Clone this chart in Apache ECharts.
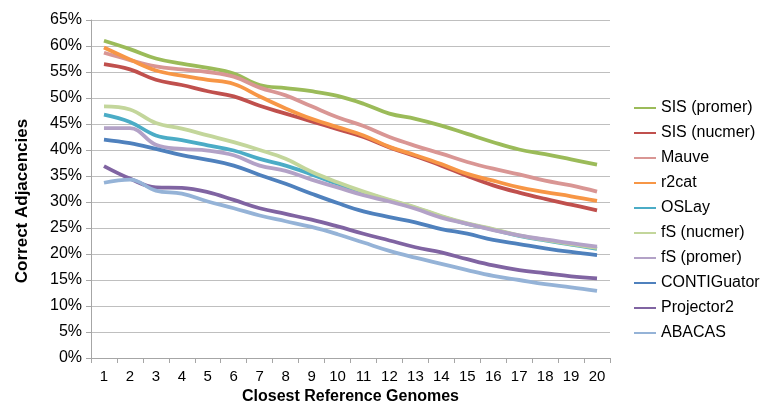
<!DOCTYPE html>
<html>
<head>
<meta charset="utf-8">
<script src="https://cdn.jsdelivr.net/npm/echarts@6/dist/echarts.min.js"></script>
<style>
html,body{margin:0;padding:0;background:#fff;}
#chart{width:766px;height:410px;}
</style>
</head>
<body>
<div id="chart"></div>
<script>
var categories = ['1','2','3','4','5','6','7','8','9','10','11','12','13','14','15','16','17','18','19','20'];
var yTicks = [0,5,10,15,20,25,30,35,40,45,50,55,60,65];

var sisPromer   = [61.0, 59.4, 57.6, 56.6, 55.8, 54.7, 52.5, 51.9, 51.3, 50.4, 48.9, 47.0, 46.0, 44.7, 43.1, 41.5, 40.1, 39.2, 38.2, 37.2];
var sisNucmer   = [56.5, 55.5, 53.5, 52.5, 51.3, 50.3, 48.5, 47.0, 45.5, 44.0, 42.5, 40.5, 38.8, 37.0, 35.0, 33.2, 31.8, 30.6, 29.5, 28.4];
var mauve       = [58.7, 57.3, 56.1, 55.5, 55.0, 54.1, 52.0, 50.5, 48.4, 46.3, 44.6, 42.5, 40.8, 39.3, 37.7, 36.4, 35.3, 34.1, 33.2, 32.0];
var r2cat       = [59.7, 57.4, 55.3, 54.3, 53.5, 52.7, 50.3, 48.0, 46.0, 44.4, 42.8, 40.6, 39.0, 37.3, 35.4, 34.1, 32.8, 31.9, 31.1, 30.2];
var oslay       = [46.8, 45.4, 42.8, 41.9, 40.9, 39.9, 38.3, 37.0, 35.3, 33.5, 31.8, 30.3, 28.9, 27.2, 25.8, 24.7, 23.5, 22.6, 21.8, 21.0];
var fsNucmer    = [48.4, 47.8, 45.2, 44.1, 42.8, 41.5, 40.0, 38.3, 35.8, 33.8, 32.0, 30.4, 29.0, 27.3, 25.9, 24.8, 23.6, 22.7, 21.9, 21.2];
var fsPromer    = [44.2, 44.2, 41.0, 40.2, 39.9, 39.0, 37.0, 36.0, 34.3, 32.8, 31.3, 30.1, 28.7, 27.0, 25.8, 24.6, 23.6, 22.8, 22.1, 21.4];
var contiguator = [42.0, 41.3, 40.2, 39.0, 38.1, 37.0, 35.2, 33.5, 31.6, 29.8, 28.2, 27.1, 26.1, 24.8, 23.9, 22.7, 21.9, 21.1, 20.4, 19.8];
var projector2  = [36.9, 34.5, 32.8, 32.7, 31.9, 30.4, 28.8, 27.7, 26.6, 25.3, 23.9, 22.6, 21.3, 20.3, 19.0, 17.8, 16.9, 16.3, 15.7, 15.3];
var abacas      = [33.7, 34.3, 32.2, 31.6, 30.1, 28.8, 27.4, 26.3, 25.2, 23.8, 22.2, 20.6, 19.3, 18.1, 16.9, 15.8, 15.0, 14.2, 13.6, 12.9];

var seriesNames = ['SIS (promer)','SIS (nucmer)','Mauve','r2cat','OSLay','fS (nucmer)','fS (promer)','CONTIGuator','Projector2','ABACAS'];
var seriesData = [sisPromer, sisNucmer, mauve, r2cat, oslay, fsNucmer, fsPromer, contiguator, projector2, abacas];
var colors = ['#9BBB59','#C0504D','#D99694','#F79646','#4BACC6','#C3D69B','#B3A2C7','#4F81BD','#8064A2','#95B3D7'];

var FONT = '"Liberation Sans", Arial, Helvetica, sans-serif';
var chart = echarts.init(document.getElementById('chart'), null, {renderer: 'canvas'});

var series = seriesNames.map(function (name, i) {
  return {
    name: name,
    type: 'line',
    data: seriesData[i],
    smooth: 0.4,
    symbol: 'none',
    lineStyle: {width: 3.8, color: colors[i]},
    itemStyle: {color: colors[i]},
    emphasis: {disabled: true},
    animation: false
  };
});

chart.setOption({
  animation: false,
  color: colors,
  textStyle: {fontFamily: FONT},
  grid: {left: 91, right: 156, top: 20, bottom: 52, containLabel: false},
  legend: {
    orient: 'vertical',
    left: 629,
    top: 95,
    itemWidth: 22,
    itemHeight: 14,
    itemGap: 9,
    icon: 'path://M0,6 L22,6 L22,8 L0,8 Z',
    data: seriesNames,
    textStyle: {fontFamily: FONT, fontSize: 16, color: '#000', lineHeight: 16, padding: [0, 0, 0, 0]},
    selectedMode: false
  },
  xAxis: {
    type: 'category',
    data: categories,
    boundaryGap: true,
    name: 'Closest Reference Genomes',
    nameLocation: 'middle',
    nameGap: 26,
    nameTextStyle: {fontFamily: FONT, fontSize: 16, fontWeight: 'bold', color: '#000', verticalAlign: 'top'},
    axisLine: {show: true, lineStyle: {color: '#a6a6a6', width: 1}},
    axisTick: {show: true, interval: 0, alignWithLabel: false, length: 5, lineStyle: {color: '#a6a6a6'}},
    axisLabel: {interval: 0, fontFamily: FONT, fontSize: 15, color: '#000', margin: 11},
    splitLine: {show: false}
  },
  yAxis: {
    type: 'value',
    min: yTicks[0],
    max: yTicks[yTicks.length - 1],
    interval: 5,
    name: 'Correct Adjacencies',
    nameLocation: 'middle',
    nameGap: 60,
    nameTextStyle: {fontFamily: FONT, fontSize: 17, fontWeight: 'bold', color: '#000', padding: [0, 24, 0, 0]},
    axisLine: {show: true, lineStyle: {color: '#a6a6a6', width: 1}},
    axisTick: {show: true, length: 5, lineStyle: {color: '#a6a6a6'}},
    axisLabel: {fontFamily: FONT, fontSize: 16, color: '#000', margin: 9, formatter: '{value}%'},
    splitLine: {show: true, lineStyle: {color: '#bfbfbf', width: 1.2}}
  },
  series: series
});
</script>
</body>
</html>
